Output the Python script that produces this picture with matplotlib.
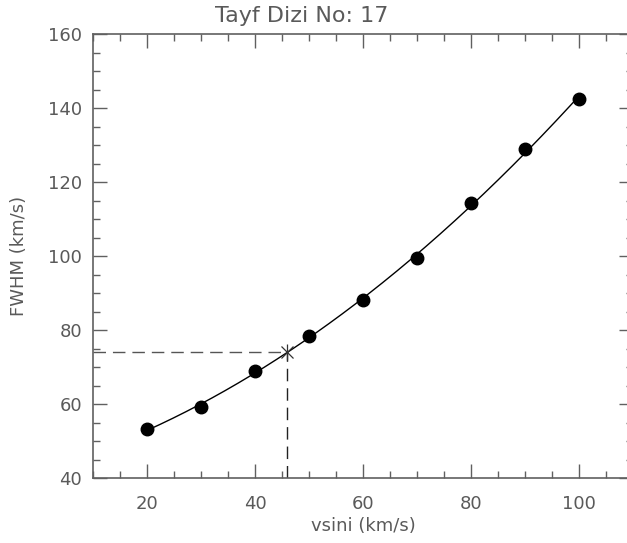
import numpy as np
import matplotlib
matplotlib.use("Agg")
import matplotlib.pyplot as plt
from matplotlib.ticker import MultipleLocator

# Data
vsini = [20, 30, 40, 50, 60, 70, 80, 90, 100]
fwhm = [53.2, 59.3, 68.8, 78.4, 88.2, 99.4, 114.2, 129.0, 142.4]
star_x = 46.0
star_y = 74.0

title = "Tayf Dizi No: 17"
xlabel = "vsini (km/s)"
ylabel = "FWHM (km/s)"

txt = "#5a5a5a"
axc = "#606060"

plt.rcParams['font.family'] = ['DejaVu Sans']

fig = plt.figure(figsize=(6.27, 5.43), dpi=100)
ax = fig.add_axes([93/627, 65/543, 540/627, 444/543])

# Fitted curve (quadratic least-squares fit of the points)
coef = np.polyfit(vsini, fwhm, 2)
xs = np.linspace(min(vsini), max(vsini), 300)
ax.plot(xs, np.polyval(coef, xs), color='black', lw=1.0, zorder=3)
ax.plot(vsini, fwhm, 'o', color='black', ms=9, zorder=4)

# Dashed guide lines
ax.plot([10, star_x], [star_y, star_y], color='#555555', lw=1.0, dashes=(9, 5), zorder=2)
ax.plot([star_x, star_x], [40, star_y], color='#222222', lw=1.0, dashes=(9, 5), zorder=2)
ax.plot([star_x], [star_y], marker='x', color='#333333', ms=9, mew=0.9, zorder=5)
ax.plot([star_x], [star_y], marker='|', color='#333333', ms=12, mew=0.9, zorder=5)

ax.set_xlim(10, 110)
ax.set_ylim(40, 160)
ax.xaxis.set_major_locator(MultipleLocator(20))
ax.xaxis.set_minor_locator(MultipleLocator(5))
ax.yaxis.set_major_locator(MultipleLocator(20))
ax.yaxis.set_minor_locator(MultipleLocator(5))
ax.tick_params(which='both', direction='in', top=True, right=True, color=axc,
               width=1.0, labelcolor=txt, labelsize=13)
ax.tick_params(which='major', length=10)
ax.tick_params(axis='x', which='major', pad=12)
ax.tick_params(axis='y', which='major', pad=8)
ax.tick_params(which='minor', length=5)
for s in ax.spines.values():
    s.set_color(axc)
    s.set_linewidth(1.2)

ax.set_xlabel(xlabel, color=txt, fontsize=13, labelpad=3)
ax.set_ylabel(ylabel, color=txt, fontsize=13, labelpad=14)
fig.text(302/627, 1 - 16/543, title, color=txt, fontsize=16, ha='center', va='center')

fig.savefig("out.png", dpi=100)
